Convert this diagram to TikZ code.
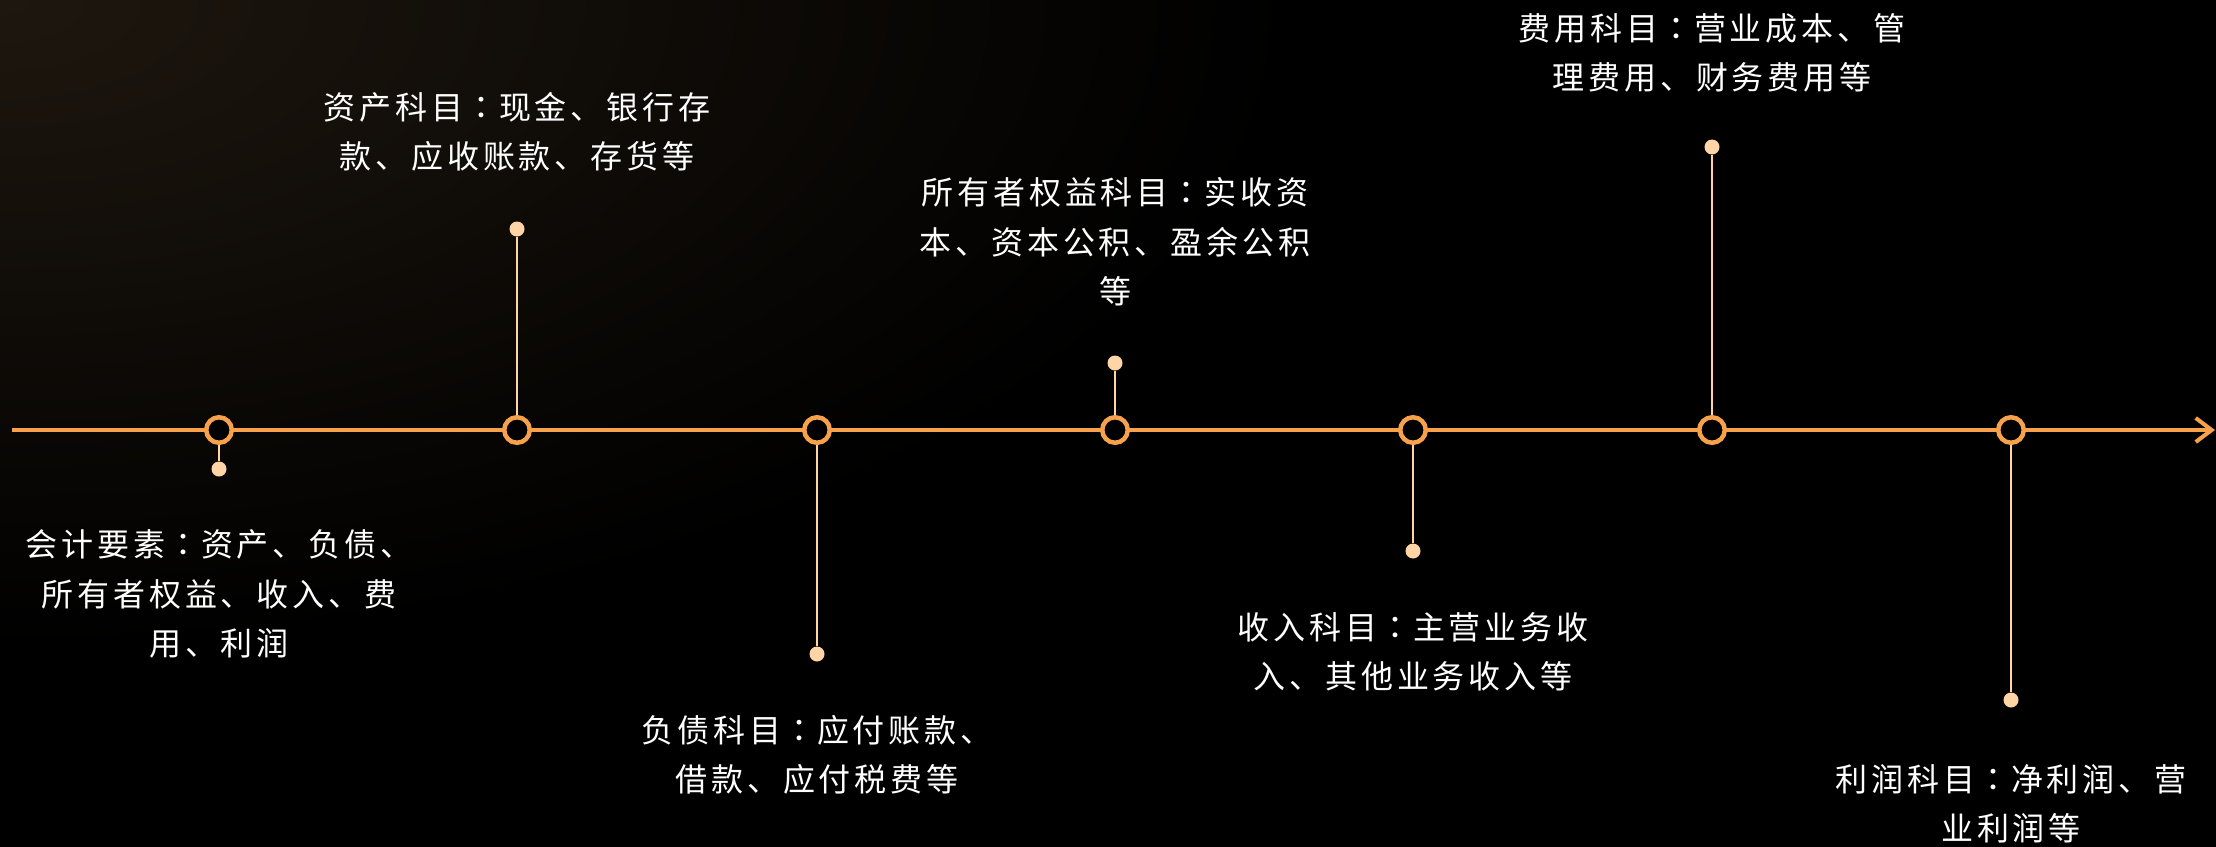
\documentclass[tikz,border=0pt]{standalone}
\usepackage{fontspec}
\newfontfamily\cjkfont[LetterSpace=12]{Noto Sans CJK SC}
\newfontfamily\jpfont{Noto Sans CJK JP}
\newcommand{\fcolon}{\makebox[1.12em][c]{\jpfont ：}}
\usetikzlibrary{arrows.meta}
\definecolor{lineorange}{HTML}{F7A24B}
\definecolor{stemcol}{HTML}{FFD4A6}
\definecolor{glow}{HTML}{1E170F}
\begin{document}
\begin{tikzpicture}[x=1pt,y=-1pt,
  ring/.style={circle, draw=lineorange, line width=4.5pt, fill=black, minimum size=25.5pt, inner sep=0pt},
  tipdot/.style={circle, fill=stemcol, minimum size=15pt, inner sep=0pt},
  stemline/.style={draw=stemcol, line width=2.5pt},
  desc/.style={text=white, align=center, font=\cjkfont\fontsize{32}{49.5}\selectfont, inner sep=0pt},
  mainline/.style={draw=lineorange, line width=4pt}]
\useasboundingbox (0,0) rectangle (2216,846);
\fill[black] (-10,-10) rectangle (2226,856);
\begin{scope}
\clip (-10,-10) rectangle (2226,856);
\shade[inner color=glow, outer color=black] (0,0) ellipse (1300 and 650);
\end{scope}
\coordinate (start) at (12,430);
\coordinate (end) at (2215,430);
\draw[mainline, -{Straight Barb[length=16pt,width=24pt]}] (start) -- (end);
\foreach \i/\x in {1/219,2/517,3/817,4/1115,5/1413,6/1712,7/2011}
  \node[ring] (c\i) at (\x,430) {};
\node[tipdot] (d1) at (219,469) {};
\node[tipdot] (d2) at (517,229) {};
\node[tipdot] (d3) at (817,654) {};
\node[tipdot] (d4) at (1115,363) {};
\node[tipdot] (d5) at (1413,551) {};
\node[tipdot] (d6) at (1712,147) {};
\node[tipdot] (d7) at (2011,700) {};
\foreach \i in {1,...,7}
  \draw[stemline] (c\i) -- (d\i);
\node[desc] (t1) at (219,594) {会计要素\fcolon 资产、负债、\\所有者权益、收入、费\\用、利润};
\node[desc] (t2) at (517,132) {资产科目\fcolon 现金、银行存\\款、应收账款、存货等};
\node[desc] (t3) at (817,755) {负债科目\fcolon 应付账款、\\借款、应付税费等};
\node[desc] (t4) at (1115,242) {所有者权益科目\fcolon 实收资\\本、资本公积、盈余公积\\等};
\node[desc] (t5) at (1413,652) {收入科目\fcolon 主营业务收\\入、其他业务收入等};
\node[desc] (t6) at (1712,53) {费用科目\fcolon 营业成本、管\\理费用、财务费用等};
\node[desc] (t7) at (2011,804) {利润科目\fcolon 净利润、营\\业利润等};
\end{tikzpicture}
\end{document}
